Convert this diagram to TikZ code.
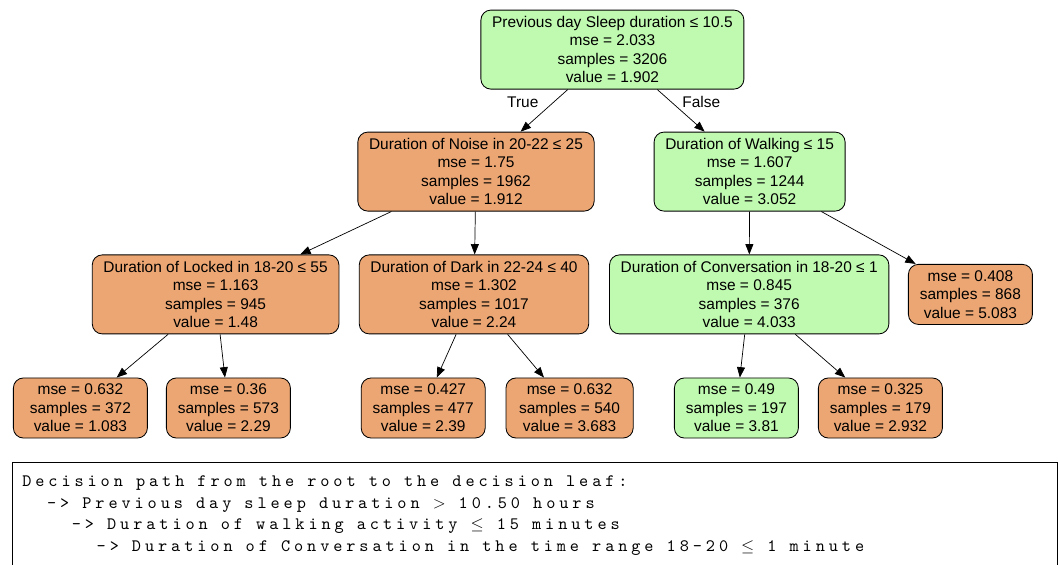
\documentclass[tikz,border=0pt]{standalone}
\usepackage{fontspec}
\setmainfont{Liberation Sans}
\newfontfamily\pathfont{lmmono10-regular.otf}[LetterSpace=22.5]
\usetikzlibrary{arrows.meta}
\definecolor{leaforange}{HTML}{EBA673}
\definecolor{leafgreen}{HTML}{C0F9B0}

\begin{document}
\begin{tikzpicture}[
		split/.style={draw, rounded corners=0.25cm, line width=0.6pt, align=center,
			inner xsep=0.28cm, inner ysep=0.15cm, font=\fontsize{11}{13.2}\selectfont},
		leaf/.style={split, minimum width=3.1cm},
		hi/.style={fill=leafgreen},
		lo/.style={fill=leaforange},
		edge/.style={-{Triangle[length=0.26cm,width=0.2cm]}, line width=0.5pt},
		]
		\useasboundingbox (0,0) rectangle (26.475,-14.125);
		
		%split nodes
		\node[split, hi] (root) at (15.31,-1.24) {Previous day Sleep duration ≤ 10.5\\mse = 2.033\\samples = 3206\\value = 1.902};
		\node[split, lo] (noise) at (11.9,-4.29) {Duration of Noise in 20-22 ≤ 25\\mse = 1.75\\samples = 1962\\value = 1.912};
		\node[split, hi] (walking) at (18.74,-4.29) {Duration of Walking ≤ 15\\mse = 1.607\\samples = 1244\\value = 3.052};
		\node[split, lo] (locked) at (5.39,-7.36) {Duration of Locked in 18-20 ≤ 55\\mse = 1.163\\samples = 945\\value = 1.48};
		\node[split, lo] (dark) at (11.85,-7.36) {Duration of Dark in 22-24 ≤ 40\\mse = 1.302\\samples = 1017\\value = 2.24};
		\node[split, hi] (conv) at (18.73,-7.36) {Duration of Conversation in 18-20 ≤ 1\\mse = 0.845\\samples = 376\\value = 4.033};
		
		%leaves
		\node[leaf, lo] (walkF) at (24.26,-7.36) {mse = 0.408\\samples = 868\\value = 5.083};
		\node[leaf, lo, minimum width=3.35cm] (lockT) at (2.01,-10.2) {mse = 0.632\\samples = 372\\value = 1.083};
		\node[leaf, lo] (lockF) at (5.71,-10.2) {mse = 0.36\\samples = 573\\value = 2.29};
		\node[leaf, lo] (darkT) at (10.58,-10.2) {mse = 0.427\\samples = 477\\value = 2.39};
		\node[leaf, lo, minimum width=3.18cm] (darkF) at (14.24,-10.2) {mse = 0.632\\samples = 540\\value = 3.683};
		\node[leaf, hi] (convT) at (18.41,-10.2) {mse = 0.49\\samples = 197\\value = 3.81};
		\node[leaf, lo] (convF) at (22.01,-10.2) {mse = 0.325\\samples = 179\\value = 2.932};
		
		%edges
		\draw[edge] (root) -- (noise);
		\draw[edge] (root) -- (walking);
		\draw[edge] (noise) -- (locked);
		\draw[edge] (noise) -- (dark);
		\draw[edge] (walking) -- (conv);
		\draw[edge] (walking) -- (walkF);
		\draw[edge] (locked) -- (lockT);
		\draw[edge] (locked) -- (lockF);
		\draw[edge] (dark) -- (darkT);
		\draw[edge] (dark) -- (darkF);
		\draw[edge] (conv) -- (convT);
		\draw[edge] (conv) -- (convF);
		
		%labels
		\node[font=\fontsize{11}{13.2}\selectfont] (true) at (13.07,-2.55) {True};
		\node[font=\fontsize{11}{13.2}\selectfont] (false) at (17.53,-2.55) {False};
		
		%decision path
		\draw[line width=0.6pt] (0.3,-14.4) |- (26.43,-11.55) -- (26.43,-14.4);
		\node[anchor=north west, inner sep=0pt, align=left,
			font=\pathfont\fontsize{12.4}{15.3}\selectfont] (path) at (0.55,-11.89)
			{Decision path from the root to the decision leaf:\\
			\hspace*{0.62cm}-> Previous day sleep duration $>$ 10.50 hours\\
			\hspace*{1.24cm}-> Duration of walking activity $\leq$ 15 minutes\\
			\hspace*{1.86cm}-> Duration of Conversation in the time range 18-20 $\leq$ 1 minute};
	\end{tikzpicture}
\end{document}
